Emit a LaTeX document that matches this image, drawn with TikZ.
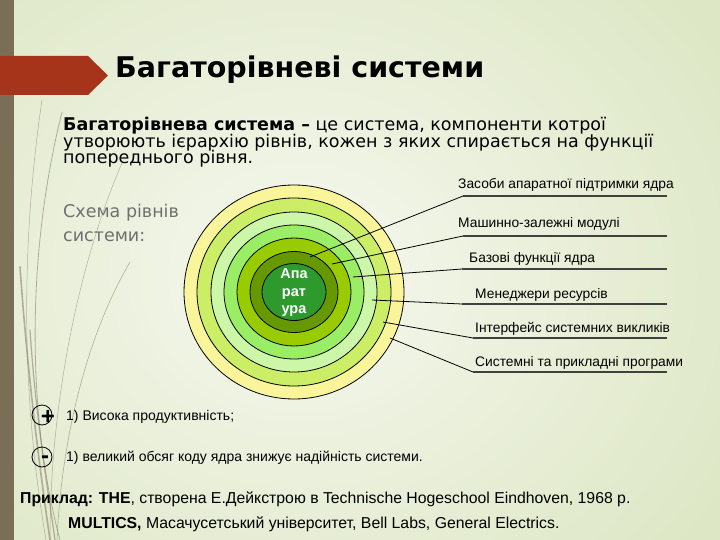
\documentclass[tikz,border=0pt]{standalone}
\usepackage{fontspec}
\setmainfont{Liberation Sans}
\newfontfamily\gothic{DejaVu Sans}
\definecolor{barcol}{RGB}{122,111,86}
\definecolor{redarrow}{RGB}{166,52,26}
\definecolor{bgin}{HTML}{F6F8EF}
\definecolor{bgout}{HTML}{DDE7C5}
\definecolor{ringa}{HTML}{FAF59B}
\definecolor{ringb}{HTML}{CCEE66}
\definecolor{ringc}{HTML}{CCF7A8}
\definecolor{ringd}{HTML}{99EE66}
\definecolor{ringe}{HTML}{99CC00}
\definecolor{ringf}{HTML}{669900}
\definecolor{ringg}{HTML}{2E9A2E}
\definecolor{graytext}{HTML}{6F6F6F}
\definecolor{grass}{HTML}{8A846E}
\begin{document}
\begin{tikzpicture}[x=1pt,y=-1pt,
  ring/.style={draw=black,line width=0.8pt},
  lbl/.style={anchor=base west,inner sep=0pt,font=\fontsize{13.8}{15}\selectfont},
  pc/.style={anchor=base west,inner sep=0pt,font=\fontsize{14}{15}\selectfont},
  conn/.style={draw=black,line width=0.8pt},
  hline/.style={draw=black!75,line width=1.2pt},
  blade/.style={draw=grass,opacity=0.6,line cap=round},
  body/.style={anchor=base west,inner sep=0pt,font=\gothic\fontsize{17.5}{17}\selectfont},
  bottom/.style={anchor=base west,inner sep=0pt,font=\fontsize{15.8}{17}\selectfont},
  signcirc/.style={draw=black,line width=0.8pt,circle,minimum size=20pt,inner sep=0pt},
  sign/.style={font=\bfseries\fontsize{24}{24}\selectfont,inner sep=0pt}]
\useasboundingbox (0,0) rectangle (720,540);
% background
\shade[inner color=bgin,outer color=bgout] (-200,-150) rectangle (800,700);
\fill[barcol] (0,0) rectangle (14,540);
% grass blades
\draw[blade,line width=0.5pt] (42,100) .. controls (20,250) and (22,400) .. (46,540);
\draw[blade,line width=0.8pt] (62,112) .. controls (25,260) and (28,420) .. (60,540);
\draw[blade,line width=0.6pt] (130,262) .. controls (90,330) and (62,430) .. (57,540);
\draw[blade,line width=0.5pt] (122,163) .. controls (80,260) and (50,400) .. (50,540);
\draw[blade,line width=1.6pt] (20,267) .. controls (28,380) and (40,470) .. (50,540);
\draw[blade,line width=1.2pt] (30,330) .. controls (36,420) and (48,490) .. (55,540);
% red arrow
\fill[redarrow] (0,56) -- (88,56) -- (108,75.5) -- (88,95) -- (0,95) -- cycle;
% title
\node[anchor=base west,inner sep=0pt,font=\gothic\bfseries\fontsize{28.5}{32}\selectfont] (title) at (115,78) {Багаторівневі системи};
% definition text
\node[body] (d1) at (63,131) {\textbf{Багаторівнева система –} це система, компоненти котрої};
\node[body] (d2) at (63,148) {утворюють ієрархію рівнів, кожен з яких спирається на функції};
\node[body] (d3) at (63,164) {попереднього рівня.};
\node[body,text=graytext] (s1) at (63,218) {Схема рівнів};
\node[body,text=graytext] (s2) at (63,241) {системи:};
% rings
\fill[ringa,ring] (294,292) ellipse [x radius=110pt,y radius=107pt];
\fill[ringb,ring] (294,292) ellipse [x radius=97pt,y radius=94pt];
\fill[ringc,ring] (294,292) ellipse [x radius=83pt,y radius=80pt];
\fill[ringd,ring] (294,292) ellipse [x radius=70pt,y radius=67pt];
\fill[ringe,ring] (294,292) ellipse [x radius=57pt,y radius=54pt];
\fill[ringf,ring] (294,292) ellipse [x radius=44pt,y radius=40.5pt];
\fill[ringg,ring] (294,292) ellipse [x radius=32pt,y radius=28.5pt];
\node[align=center,text=white,font=\bfseries\fontsize{14.5}{17.5}\selectfont,inner sep=0pt] (core) at (294,293) {Апа\\рат\\ура};
% connector points
\coordinate (p1) at (310,257);
\coordinate (p2) at (332,264);
\coordinate (p3) at (353,277);
\coordinate (p4) at (372,300);
\coordinate (p5) at (383,322);
\coordinate (p6) at (390,338);
\coordinate (k1) at (463,196); \coordinate (e1) at (667,196);
\coordinate (k2) at (463,236); \coordinate (e2) at (667,236);
\coordinate (k3) at (462,269); \coordinate (e3) at (667,269);
\coordinate (k4) at (462,304); \coordinate (e4) at (667,304);
\coordinate (k5) at (473,338); \coordinate (e5) at (667,338);
\coordinate (k6) at (473,372); \coordinate (e6) at (667,372);
\draw[conn] (p1) -- (k1); \draw[hline] (k1) -- (e1);
\draw[conn] (p2) -- (k2); \draw[hline] (k2) -- (e2);
\draw[conn] (p3) -- (k3); \draw[hline] (k3) -- (e3);
\draw[conn] (p4) -- (k4); \draw[hline] (k4) -- (e4);
\draw[conn] (p5) -- (k5); \draw[hline] (k5) -- (e5);
\draw[conn] (p6) -- (k6); \draw[hline] (k6) -- (e6);
% labels
\node[lbl] (l1) at (458,189) {Засоби апаратної підтримки ядра};
\node[lbl] (l2) at (458,228) {Машинно-залежні модулі};
\node[lbl] (l3) at (469,262) {Базові функції ядра};
\node[lbl] (l4) at (475,298) {Менеджери ресурсів};
\node[lbl] (l5) at (475,332) {Інтерфейс системних викликів};
\node[lbl] (l6) at (475,366) {Системні та прикладні програми};
% pros / cons
\node[signcirc] (plus) at (42,415) {};
\node[sign] (plussign) at (48,417) {+};
\node[signcirc] (minus) at (42,457) {};
\node[sign] (minussign) at (45,460) {-};
\node[pc] (pro) at (66,420) {1) Висока продуктивність;};
\node[pc] (con) at (66,461) {1) великий обсяг коду ядра знижує надійність системи.};
% bottom text
\node[bottom] (ex1) at (20,503) {\textbf{Приклад: THE}, створена Е.Дейкстрою в Technische Hogeschool Eindhoven, 1968 р.};
\node[bottom] (ex2) at (68,528) {\textbf{MULTICS,} Масачусетський університет, Bell Labs, General Electrics.};
\end{tikzpicture}
\end{document}
